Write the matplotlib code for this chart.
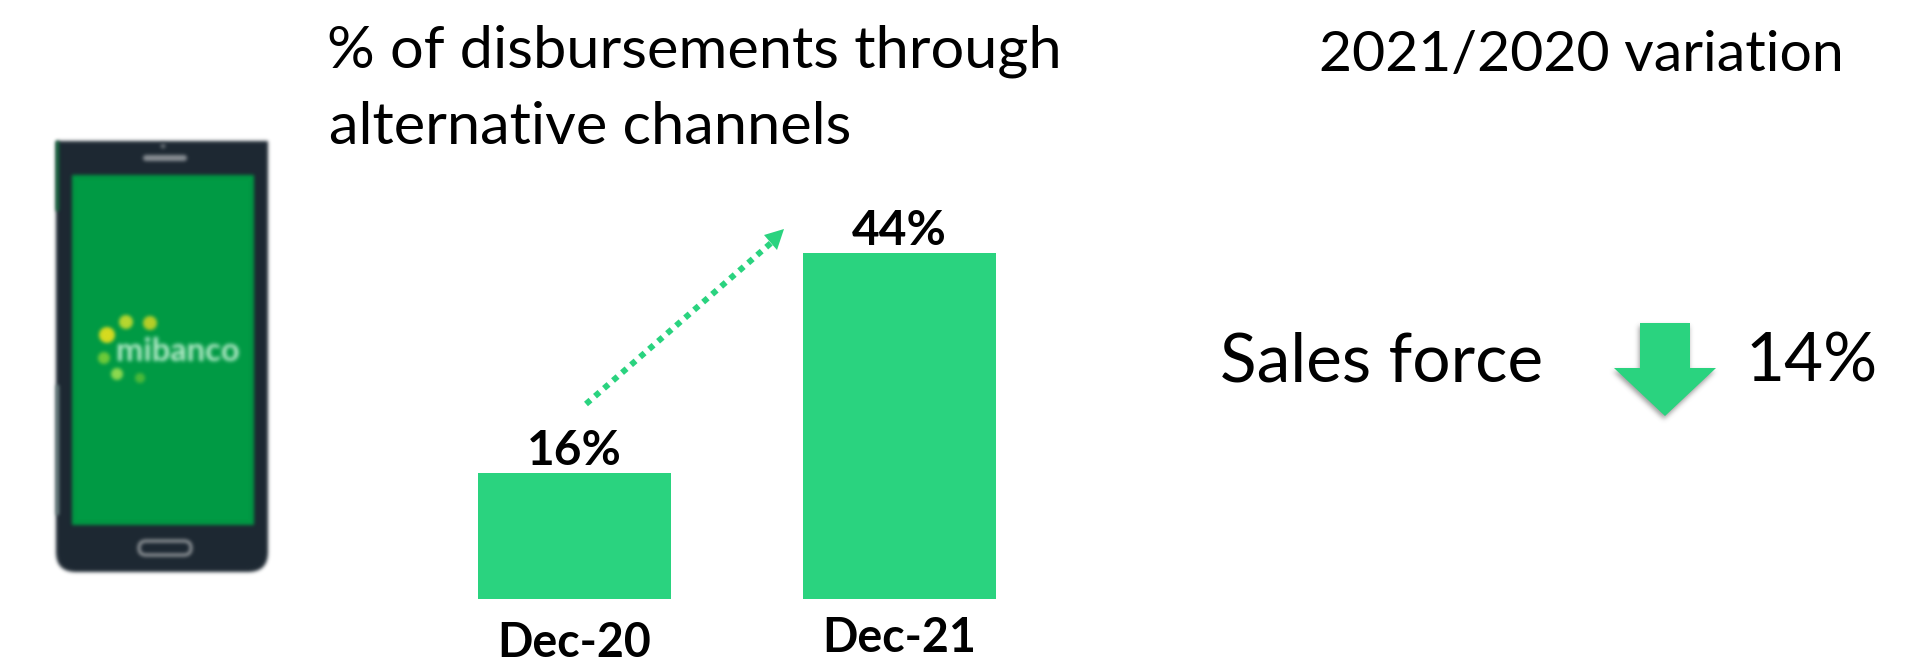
#! /usr/bin/env python

import numpy as np
import matplotlib
matplotlib.use('Agg')
import matplotlib.pyplot as plt
import matplotlib.patches as patches
from matplotlib.path import Path

plt.rcParams['font.family'] = ['Lato', 'DejaVu Sans']

categories = ['Dec-20', 'Dec-21']
shares = [16, 44]
variation_label = 'Sales force'
variation_value = 14

W, H = 1916, 663
GREEN = '#2AD37F'
INK = '#000000'


def blur_filter(sigma_px, offset=(0, 0), tint=None, alpha=1.0):
    # gaussian blur for agg_filter, done with plain numpy convolutions
    def _filter(image, dpi):
        pad = int(3*sigma_px)+1
        img = np.pad(image, ((pad, pad), (pad, pad), (0, 0)))
        xs = np.arange(-pad, pad+1)
        kern = np.exp(-0.5*(xs/sigma_px)**2)
        kern /= kern.sum()
        # premultiply so transparent edges don't bleed black
        img[..., :3] *= img[..., 3:4]
        for axis in (0, 1):
            img = np.apply_along_axis(lambda v: np.convolve(v, kern, mode='same'), axis, img)
        a = np.clip(img[..., 3:4], 1e-6, 1.0)
        img[..., :3] = np.clip(img[..., :3]/a, 0, 1)
        if tint is not None:
            img[..., :3] = tint
            img[..., 3] *= alpha
        return img, -pad+offset[0], -pad+offset[1]
    return _filter


fig = plt.figure(figsize=(W/100, H/100), dpi=100, facecolor='white')

# full size layer in pixel units for the phone, texts and arrows
ov = fig.add_axes([0, 0, 1, 1])
ov.set_xlim(0, W)
ov.set_ylim(H, 0)
ov.axis('off')

# bars
base_y = 598.5
unit = 7.85
centers = [574.5, 899.5]
step = centers[1]-centers[0]
left, right = 400, 1074
ax = fig.add_axes([left/W, (H-base_y)/H, (right-left)/W, (base_y-200)/H])
ax.set_xlim((left-centers[0])/step, (right-centers[0])/step)
ax.set_ylim(0, (base_y-200)/unit)
ax.axis('off')
xpos = np.arange(len(categories))
ax.bar(xpos, shares, width=193/step, color=GREEN, linewidth=0)
for i, v in enumerate(shares):
    ax.annotate('{}%'.format(v), xy=(xpos[i], v), xytext=(0, 6), textcoords='offset points',
                ha='center', va='baseline', fontsize=34.5, fontweight='bold', color=INK,
                annotation_clip=False)

ov.text(574.5, 657, categories[0], ha='center', va='baseline', fontsize=33.5, fontweight='bold', color=INK)
ov.text(899.5, 652, categories[1], ha='center', va='baseline', fontsize=33.5, fontweight='bold', color=INK)

# dotted growth arrow
ov.plot([586, 771], [404, 243], color=GREEN, lw=4.3, linestyle=(0, (1, 1)), dash_capstyle='butt')
ov.add_patch(patches.Polygon([(784, 229), (764, 235), (777, 250)], closed=True, fc=GREEN, ec='none'))

# headings
ov.text(327, 67, '% of disbursements through', ha='left', va='baseline', fontsize=42.8, color=INK)
ov.text(329, 144, 'alternative channels', ha='left', va='baseline', fontsize=42.8, color=INK)
ov.text(1319, 71, '2021/2020 variation', ha='left', va='baseline', fontsize=41.1, color=INK)

# variation row
ov.text(1220, 381, variation_label, ha='left', va='baseline', fontsize=48.7, color=INK)
ov.text(1746, 381, '{}%'.format(variation_value), ha='left', va='baseline', fontsize=48.6, color=INK)

arrow_pts = [(1640, 323), (1690, 323), (1690, 368), (1716, 368), (1665, 416), (1614, 368), (1640, 368)]
ov.add_patch(patches.Polygon(arrow_pts, closed=True, fc='#555555', ec='none', zorder=2,
                             agg_filter=blur_filter(2.5, offset=(-1, -3), tint=(0.3, 0.3, 0.3), alpha=0.55)))
ov.add_patch(patches.Polygon(arrow_pts, closed=True, fc=GREEN, ec='none', zorder=3))

# phone
soft = blur_filter(1.8)
body = Path([(56, 141), (268, 141), (268, 552), (268, 572), (248, 572), (76, 572), (56, 572), (56, 552), (56, 141)],
            [Path.MOVETO, Path.LINETO, Path.LINETO, Path.CURVE3, Path.CURVE3, Path.LINETO, Path.CURVE3, Path.CURVE3,
             Path.CLOSEPOLY])
ov.add_patch(patches.PathPatch(body, fc='#1D2832', ec='none', zorder=4, agg_filter=soft))
# side keys on the left edge of the case
ov.add_patch(patches.Rectangle((56, 141), 3, 70, fc='#0B6B38', ec='none', zorder=5, agg_filter=soft))
ov.add_patch(patches.Rectangle((56, 385), 3, 130, fc='#6F8A88', ec='none', zorder=5, agg_filter=soft))
ov.add_patch(patches.Rectangle((72, 175), 182, 350, fc='#009A44', ec='none', zorder=5, agg_filter=soft))
ov.add_patch(patches.FancyBboxPatch((143, 155), 44, 6, boxstyle='round,pad=0,rounding_size=3',
                                    fc='#8A9096', ec='none', zorder=6, agg_filter=soft))
ov.add_patch(patches.Circle((163, 146), 2.5, fc='#6A7278', ec='none', zorder=6, agg_filter=soft))
ov.add_patch(patches.FancyBboxPatch((139, 541), 52, 14, boxstyle='round,pad=0,rounding_size=7',
                                    fc='#1D2832', ec='#8F9498', lw=2.4, zorder=6, agg_filter=soft))
ov.text(116, 361, 'mibanco', ha='left', va='baseline', fontsize=23.5, fontweight='bold', color='#BDEFCF',
        zorder=7, agg_filter=blur_filter(2.0))
# sun rays of the logo
for (cx, cy, r, c) in [(107, 335, 8, '#D8DC20'), (126, 322, 7, '#B8D830'), (150, 323, 7, '#B8D028'),
                       (104, 358, 6, '#6FCB3A'), (117, 374, 6, '#8FDB50'), (140, 378, 5, '#4DBB3A')]:
    ov.add_patch(patches.Circle((cx, cy), r, fc=c, ec='none', zorder=7, agg_filter=blur_filter(1.8)))

fig.savefig('out.png', dpi=100, facecolor='white')
